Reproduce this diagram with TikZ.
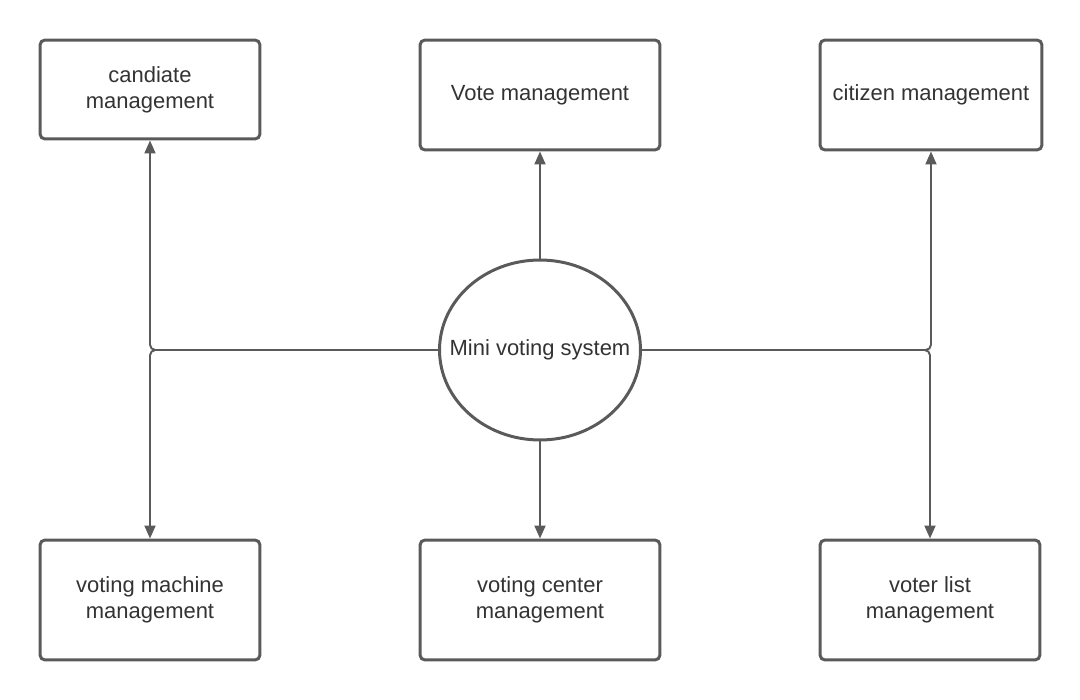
\documentclass[tikz,border=0pt]{standalone}
\usepackage{fontspec}
\setmainfont{Liberation Sans}
\usepackage{tikz}
\usetikzlibrary{shapes.geometric,arrows.meta}
\definecolor{linegray}{HTML}{5A5A5A}
\definecolor{textgray}{HTML}{333333}

\begin{document}
\begin{tikzpicture}[x=0.02cm,y=-0.02cm,
  box/.style={draw=linegray,line width=1.7pt,rounded corners=0.1cm,minimum width=4.4cm,align=center,text=textgray,font=\fontsize{12.5}{14.8}\selectfont},
  conn/.style={draw=linegray,line width=1.1pt,-{Triangle[length=0.26cm,width=0.22cm]},rounded corners=3pt}]
\useasboundingbox (0,0) rectangle (1080,700);
\node[box,minimum height=1.98cm] (cand) at (150,89.5) {candiate\\management};
\node[box,minimum width=4.8cm,minimum height=2.2cm] (vote) at (540,95) {Vote management};
\node[box,minimum width=4.44cm,minimum height=2.2cm] (citizen) at (931,95) {citizen management};
\node[box,minimum height=2.4cm] (machine) at (150,600) {voting machine\\management};
\node[box,minimum width=4.8cm,minimum height=2.4cm] (center) at (540,600) {voting center\\management};
\node[box,minimum height=2.4cm] (voters) at (930,600) {voter list\\management};
\node[ellipse,draw=linegray,line width=1.7pt,inner sep=0pt,minimum width=4.02cm,minimum height=3.6cm,text=textgray,font=\fontsize{12.5}{14.8}\selectfont] (sys) at (540,350) {\makebox[0pt]{Mini voting system}};
\draw[conn] (sys.north) -- (vote.south);
\draw[conn] (sys.south) -- (center.north);
\draw[conn] (sys.west) -| (cand.south);
\draw[conn] (sys.west) -| (machine.north);
\draw[conn] (sys.east) -| (citizen.south);
\draw[conn] (sys.east) -| (voters.north);
\end{tikzpicture}
\end{document}
